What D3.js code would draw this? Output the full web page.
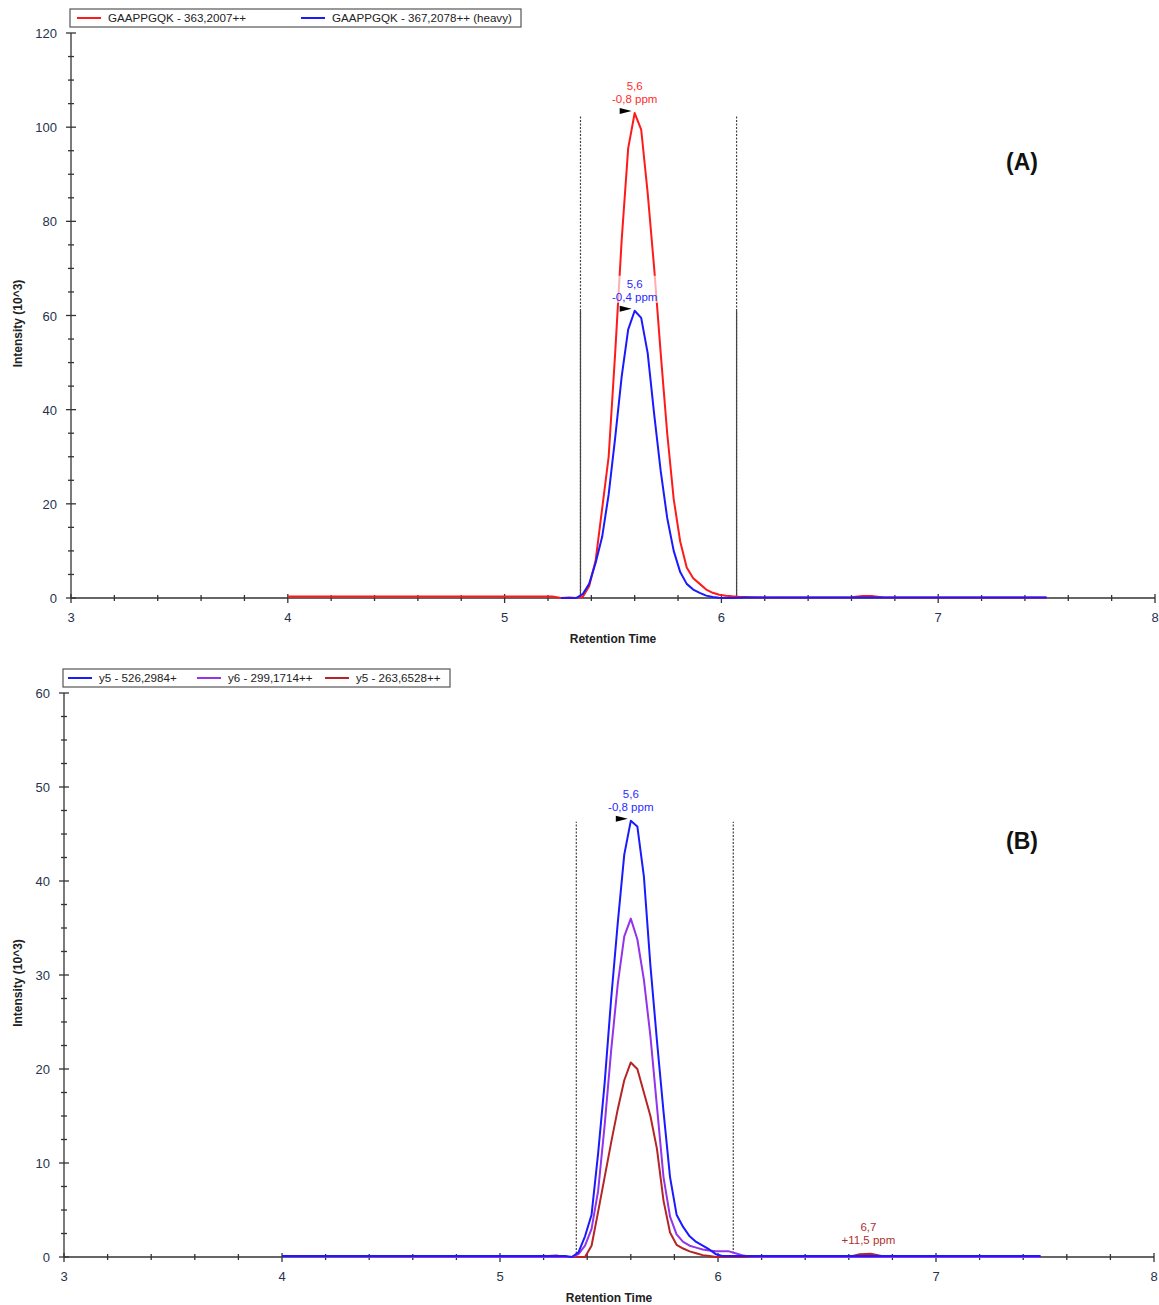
<!DOCTYPE html>
<meta charset="utf-8">
<script src="https://d3js.org/d3.v7.min.js"></script>
<style>
  body { margin: 0; background: #fff; }
  text { font-family: "Liberation Sans", Arial, sans-serif; }
</style>
<svg id="chart" width="1159" height="1305"></svg>
<script>
// retention time grid shared by the peak part of every trace
const peakTimes = [5.30,5.33,5.36,5.39,5.42,5.45,5.48,5.51,5.54,5.57,5.60,5.63,5.66,5.69,5.72,5.75,5.78,5.81,5.84,5.87,5.90,5.93,5.96,5.99,6.02,6.05,6.08,6.11,6.14];

// panel A : precursor traces (10^3)
const redA  = [0.1,0,0.2,2.5,8,19,30,52,76,95.5,103,99.5,86,70,52,35,21,12,6.5,4.2,3,1.8,1.1,0.7,0.5,0.35,0.25,0.2,0.15];
const blueA = [0,0,0.8,3,7.5,13,22,34,47,57,61,59.5,52,39,27,17,10,5.5,3,1.8,1.1,0.5,0.2,0.05,0,0,0.05,0.1,0.1];
const redALeft   = [[4.0,0.3],[5.22,0.3],[5.26,0]];
const redARight  = [[6.2,0.1],[6.6,0.15],[6.65,0.4],[6.7,0.4],[6.75,0.1],[7.5,0.1]];
const blueALeft  = [[5.26,0]];
const blueARight = [[6.2,0.1],[7.5,0.1]];

// panel B : fragment traces (10^3)
const blueB   = [0.1,0,0.5,2.2,4.5,11,18.5,27.5,35.5,42.8,46.4,45.8,40.5,31,23,15.5,8.5,4.5,3.2,2.2,1.6,1.2,0.8,0.3,0.1,0.1,0.1,0.1,0.1];
const purpleB = [0,0,0.3,1.2,3,7,14,22,29,34.1,36,33.8,29.5,23.5,16,8.5,4.3,2.4,1.6,1.2,1.0,0.8,0.7,0.6,0.6,0.6,0.4,0.2,0.05];
const darkB   = [0,0,0,0,1.2,4.8,8.5,12.2,15.7,18.8,20.7,20,17.5,15,11.5,6,2.6,1.3,0.9,0.6,0.4,0.2,0.1,0,0,0,0,0,0];
const blueBLeft    = [[4.0,0.1],[5.25,0.1]];
const blueBRight   = [[7.48,0.1]];
const purpleBLeft  = [[4.0,0.05],[5.25,0]];
const purpleBRight = [[6.2,0],[7.48,0]];
const darkBLeft    = [[4.0,0.1],[5.22,0.1],[5.26,0.15],[5.29,0]];
const darkBRight   = [[6.6,0],[6.65,0.3],[6.7,0.35],[6.75,0.1],[6.8,0],[7.48,0]];

const legendA = ["GAAPPGQK - 363,2007++", "GAAPPGQK - 367,2078++ (heavy)"];
const legendB = ["y5 - 526,2984+", "y6 - 299,1714++", "y5 - 263,6528++"];
const boundaries = [5.35, 6.07];

const svg = d3.select("#chart");

function trace(left, values, right) {
  return left.concat(peakTimes.map((t, i) => [t, values[i]]), right);
}

function drawPanel(p) {
  const g = svg.append("g");
  const x = d3.scaleLinear().domain([3, 8]).range([p.x0, p.x1]);
  const y = d3.scaleLinear().domain([0, p.ymax]).range([p.y0, p.y1]);

  // axes, ticks crossing the axis line
  const ax = g.append("g").attr("stroke", "#333").attr("stroke-width", 1.3);
  ax.append("line").attr("x1", p.x0).attr("x2", p.x1).attr("y1", p.y0).attr("y2", p.y0);
  ax.append("line").attr("x1", p.x0).attr("x2", p.x0).attr("y1", p.y0).attr("y2", p.y1);
  d3.range(3, 8.001, 0.2).forEach(v => {
    const major = Math.abs(v - Math.round(v)) < 1e-6;
    ax.append("line").attr("x1", x(v)).attr("x2", x(v))
      .attr("y1", p.y0 - (major ? 4 : 3)).attr("y2", p.y0 + (major ? 5 : 3));
  });
  d3.range(0, p.ymax + 0.001, p.yminor).forEach(v => {
    const major = Math.abs(v / p.ymajor - Math.round(v / p.ymajor)) < 1e-6;
    ax.append("line").attr("y1", y(v)).attr("y2", y(v))
      .attr("x1", p.x0 - (major ? 5 : 3)).attr("x2", p.x0 + (major ? 5 : 3));
  });
  d3.range(3, 9).forEach(v => {
    g.append("text").attr("x", x(v)).attr("y", p.y0 + 24).attr("text-anchor", "middle")
      .attr("font-size", 13).attr("fill", "#26334d").text(v);
  });
  d3.range(0, p.ymax + 0.001, p.ymajor).forEach(v => {
    g.append("text").attr("x", p.x0 - 14).attr("y", y(v) + 5).attr("text-anchor", "end")
      .attr("font-size", 13).attr("fill", "#26334d").text(v);
  });
  g.append("text").attr("x", (p.x0 + p.x1) / 2).attr("y", p.y0 + 45).attr("text-anchor", "middle")
    .attr("font-size", 12).attr("font-weight", "bold").attr("fill", "#222").text("Retention Time");
  g.append("text").attr("transform", `translate(22,${(p.y0 + p.y1) / 2 + 8}) rotate(-90)`)
    .attr("text-anchor", "middle").attr("font-size", 12).attr("font-weight", "bold")
    .attr("fill", "#222").text("Intensity (10^3)");

  // integration boundaries
  boundaries.forEach(b => {
    g.append("line").attr("x1", x(b)).attr("x2", x(b)).attr("y1", p.y0).attr("y2", y(p.boundTop))
      .attr("stroke", "#444").attr("stroke-width", 1.2).attr("stroke-dasharray", "2,1.5");
    if (p.solidTop) {
      g.append("line").attr("x1", x(b)).attr("x2", x(b)).attr("y1", p.y0).attr("y2", y(p.solidTop))
        .attr("stroke", "#444").attr("stroke-width", 1.2);
    }
  });

  // traces
  const line = d3.line().x(d => x(d[0])).y(d => y(d[1]));
  p.series.forEach(s => {
    g.append("path").datum(s.data).attr("d", line).attr("fill", "none")
      .attr("stroke", s.color).attr("stroke-width", 2).attr("stroke-linejoin", "round");
  });

  // peak annotations
  p.notes.forEach(n => {
    const px = x(n.t), py = y(n.v);
    const lab = g.append("g");
    lab.append("rect").attr("x", px - 26).attr("y", py - 35).attr("width", 52).attr("height", 27)
      .attr("fill", "#fff").attr("opacity", 0.65);
    lab.append("text").attr("x", px).attr("y", py - 23).attr("text-anchor", "middle")
      .attr("font-size", 11.5).attr("fill", n.color).text(n.lines[0]);
    lab.append("text").attr("x", px).attr("y", py - 10).attr("text-anchor", "middle")
      .attr("font-size", 11.5).attr("fill", n.color).text(n.lines[1]);
    if (n.arrow) {
      lab.append("path").attr("d", `M${px - 15},${py - 5} L${px - 3},${py - 2} L${px - 15},${py + 1} Z`)
        .attr("fill", "#000");
    }
  });

  // legend
  const lg = g.append("g");
  lg.append("rect").attr("x", p.legend.x).attr("y", p.legend.y).attr("width", p.legend.w).attr("height", 18)
    .attr("fill", "#fff").attr("stroke", "#555").attr("stroke-width", 1.2);
  p.legend.items.forEach((it, i) => {
    const lx = p.legend.x + p.legend.offsets[i];
    lg.append("line").attr("x1", lx).attr("x2", lx + 24).attr("y1", p.legend.y + 9).attr("y2", p.legend.y + 9)
      .attr("stroke", it.color).attr("stroke-width", 2);
    lg.append("text").attr("x", lx + 31).attr("y", p.legend.y + 13).attr("font-size", 11.6)
      .attr("fill", "#222").text(it.label);
  });

  g.append("text").attr("x", p.tagX).attr("y", y(p.tagV)).attr("text-anchor", "middle")
    .attr("font-size", 23).attr("font-weight", "bold").attr("fill", "#111").text(p.tag);
}

drawPanel({
  x0: 71, x1: 1155, y0: 598, y1: 33, ymax: 120, ymajor: 20, yminor: 5,
  boundTop: 102.5, solidTop: 61,
  series: [
    { color: "#ff1a1a", data: trace(redALeft, redA, redARight) },
    { color: "#1a1aff", data: trace(blueALeft, blueA, blueARight) }
  ],
  notes: [
    { t: 5.60, v: 103, color: "#ff2a2a", lines: ["5,6", "-0,8 ppm"], arrow: true },
    { t: 5.60, v: 61,  color: "#2a2aff", lines: ["5,6", "-0,4 ppm"], arrow: true }
  ],
  legend: { x: 70, y: 9, w: 451, offsets: [7, 231],
    items: [{ color: "#ff1a1a", label: legendA[0] }, { color: "#1a1aff", label: legendA[1] }] },
  tag: "(A)", tagX: 1022, tagV: 91
});

drawPanel({
  x0: 64, x1: 1154, y0: 1257, y1: 693, ymax: 60, ymajor: 10, yminor: 2.5,
  boundTop: 46.3, solidTop: null,
  series: [
    { color: "#b52525", data: trace(darkBLeft, darkB, darkBRight) },
    { color: "#9333ea", data: trace(purpleBLeft, purpleB, purpleBRight) },
    { color: "#1a1aff", data: trace(blueBLeft, blueB, blueBRight) }
  ],
  notes: [
    { t: 5.60, v: 46.4, color: "#2a2aff", lines: ["5,6", "-0,8 ppm"], arrow: true },
    { t: 6.69, v: 0.35, color: "#b03030", lines: ["6,7", "+11,5 ppm"], arrow: false }
  ],
  legend: { x: 63, y: 669, w: 387, offsets: [5, 134, 262],
    items: [{ color: "#1a1aff", label: legendB[0] }, { color: "#9333ea", label: legendB[1] }, { color: "#b52525", label: legendB[2] }] },
  tag: "(B)", tagX: 1022, tagV: 43.4
});
</script>
